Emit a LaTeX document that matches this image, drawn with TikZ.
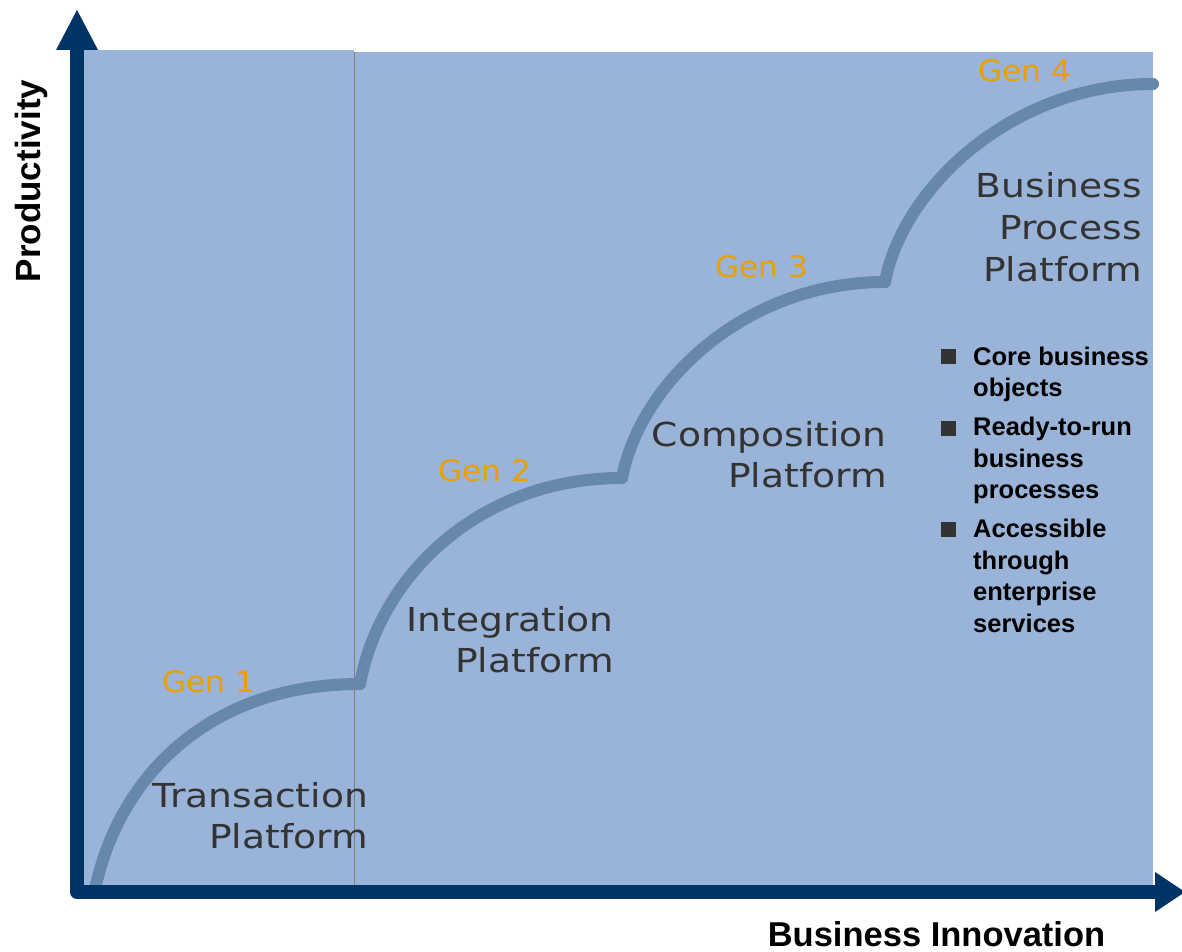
\documentclass[tikz,border=0pt]{standalone}
\usepackage{fontspec}
\setmainfont{Liberation Sans}
\newfontfamily\platfont[FakeStretch=1.14]{DejaVu Sans}
\newfontfamily\genfont[FakeStretch=1.06]{DejaVu Sans}
\definecolor{panelcol}{RGB}{153,180,216}
\definecolor{axiscol}{RGB}{0,51,102}
\definecolor{curvecol}{RGB}{102,136,170}
\definecolor{genorange}{RGB}{233,160,0}
\definecolor{txtgray}{RGB}{51,51,51}
\begin{document}
\begin{tikzpicture}[x=1pt,y=1pt,
  plat/.style={font=\platfont\fontsize{33}{41}\selectfont, text=txtgray, align=right, anchor=base east, inner sep=0pt},
  gen/.style={font=\genfont\fontsize{29.5}{34}\selectfont, text=genorange, anchor=base west, inner sep=0pt},
  bul/.style={font=\bfseries\fontsize{25.5}{31.5}\selectfont, text=black, align=left, anchor=base west, inner sep=0pt},
  sq/.style={fill=txtgray, minimum size=15pt, inner sep=0pt, draw=none},
  curve/.style={draw=curvecol, line width=12pt, line cap=round},
  axis/.style={draw=axiscol, line width=14pt, line join=round},
  axlabel/.style={font=\bfseries\fontsize{35}{40}\selectfont, text=black, inner sep=0pt, anchor=base}]
\useasboundingbox (0,0) rectangle (1182,951);
\clip (0,0) rectangle (1182,951);
% panels
\fill[panelcol] (84,66) rectangle (354,901);
\fill[panelcol] (354,66) rectangle (1153,899);
\draw[gray, line width=0.8pt] (354,66) -- (354,899);
% curve points
\coordinate (p0) at (96,66);
\coordinate (p1) at (360,267);
\coordinate (p2) at (622,473);
\coordinate (p3) at (885,669);
\coordinate (p4) at (1153,867);
\draw[curve] (p0) .. controls +(25,110) and +(-150,0) .. (p1);
\draw[curve] (p1) .. controls +(20,109) and +(-142,0) .. (p2);
\draw[curve] (p2) .. controls +(18,95) and +(-140,0) .. (p3);
\draw[curve] (p3) .. controls +(18,95) and +(-140,0) .. (p4);
% axes
\coordinate (ytop) at (77,901);
\coordinate (orig) at (77,59);
\coordinate (xend) at (1155,59);
\draw[axis] (ytop) -- (orig) -- (xend);
\fill[axiscol] (56,901) -- (77,941) -- (98,901) -- cycle;
\fill[axiscol] (1155,79) -- (1185,59) -- (1155,39) -- cycle;
% axis labels
\node[axlabel, rotate=90] (ylab) at (40,770) {Productivity};
\node[axlabel, font=\bfseries\fontsize{34.5}{40}\selectfont] (xlab) at (936.5,5) {Business Innovation};
% generation labels
\node[gen] (g1) at (162,259) {Gen 1};
\node[gen] (g2) at (438,469) {Gen 2};
\node[gen] (g3) at (715,673) {Gen 3};
\node[gen] (g4) at (978,869) {Gen 4};
% platform labels (anchored at the baseline of the last line)
\node[plat] (t1) at (368,103) {Transaction\\Platform};
\node[plat] (t2) at (614,279) {Integration\\Platform};
\node[plat] (t3) at (887,463) {Composition\\Platform};
\node[plat, font=\platfont\fontsize{33}{42}\selectfont] (t4) at (1142,669) {Business\\Process\\Platform};
% bullets
\node[sq] (s1) at (948.5,594.5) {};
\node[sq] (s2) at (948.5,522.5) {};
\node[sq] (s3) at (948.5,421.5) {};
\node[bul] (b1) at (973,554) {Core business\\objects};
\node[bul] (b2) at (973,452) {Ready-to-run\\business\\processes};
\node[bul] (b3) at (973,319) {Accessible\\through\\enterprise\\services};
\end{tikzpicture}
\end{document}
